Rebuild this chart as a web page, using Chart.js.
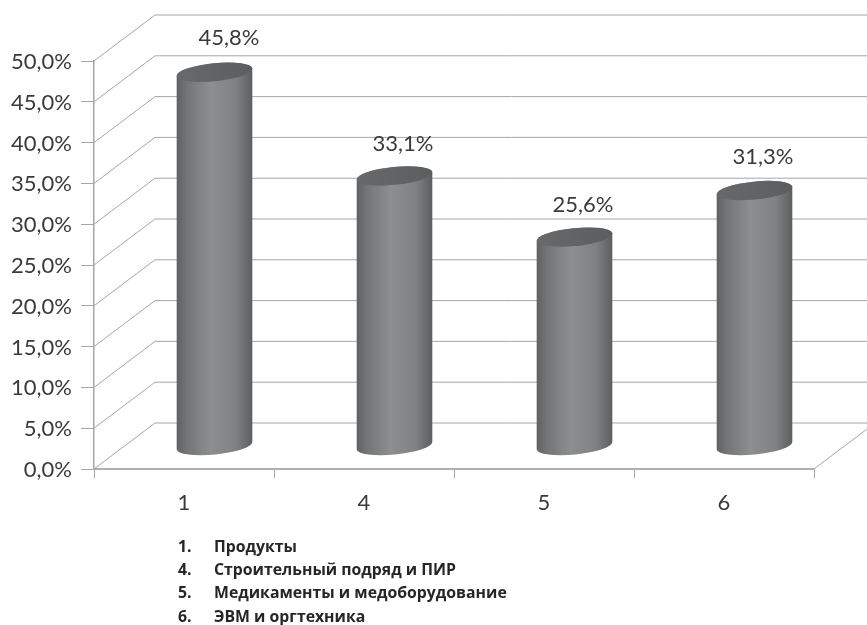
<!DOCTYPE html>
<html>
<head>
<meta charset="utf-8">
<title>Chart</title>
<script src="https://cdn.jsdelivr.net/npm/chart.js@4"></script>
<style>
  html, body { margin: 0; padding: 0; background: #fff; }
  canvas { display: block; }
</style>
</head>
<body>
<canvas id="shareChart" width="867" height="625"></canvas>
<script>
const categories = ['1', '4', '5', '6'];
const shares = [45.8, 33.1, 25.6, 31.3];
const legendNumbers = ['1.', '4.', '5.', '6.'];
const legendNames = ['Продукты', 'Строительный подряд и ПИР', 'Медикаменты и медоборудование', 'ЭВМ и оргтехника'];

// 3D look: how far the back wall sits from the front axes
const DEPTH_X = 61;
const DEPTH_Y = -46;
const BAR_SHIFT_X = 30.5;
const BAR_SHIFT_Y = -23;
const CAP_RY = 9;
const CAP_TILT = -0.1;
const FONT = 'Lato, "Open Sans", sans-serif';

function formatPercent(value) {
  return value.toFixed(1).replace('.', ',') + '%';
}

// Replaces the flat bar drawing with a tilted cylinder
function drawCylinder(ctx) {
  const { x, y, base, width } = this.getProps(['x', 'y', 'base', 'width']);
  const cx = x + BAR_SHIFT_X;
  const top = y + BAR_SHIFT_Y;
  const bottom = base + BAR_SHIFT_Y;
  const rx = width / 2;

  const side = ctx.createLinearGradient(cx - rx, 0, cx + rx, 0);
  side.addColorStop(0, '#606163');
  side.addColorStop(0.14, '#747577');
  side.addColorStop(0.45, '#8d8e90');
  side.addColorStop(0.78, '#808183');
  side.addColorStop(1, '#5c5d5f');

  ctx.save();
  ctx.beginPath();
  ctx.ellipse(cx, bottom, rx, CAP_RY, CAP_TILT, 0, Math.PI);
  ctx.ellipse(cx, top, rx, CAP_RY, CAP_TILT, Math.PI, Math.PI * 2);
  ctx.closePath();
  ctx.fillStyle = side;
  ctx.fill();

  const cap = ctx.createLinearGradient(cx - rx, 0, cx + rx, 0);
  cap.addColorStop(0, '#68696b');
  cap.addColorStop(1, '#5c5d5f');
  ctx.beginPath();
  ctx.ellipse(cx, top, rx, CAP_RY, CAP_TILT, 0, Math.PI * 2);
  ctx.fillStyle = cap;
  ctx.fill();
  ctx.restore();
}

const wallPlugin = {
  id: 'wall',
  beforeDatasetsDraw(chart) {
    const { ctx, scales, chartArea } = chart;
    ctx.save();
    ctx.strokeStyle = '#a6a6a6';
    ctx.lineWidth = 1;
    scales.y.ticks.forEach(tick => {
      const y = scales.y.getPixelForValue(tick.value);
      ctx.beginPath();
      ctx.moveTo(chartArea.left, y);
      ctx.lineTo(chartArea.left + DEPTH_X, y + DEPTH_Y);
      ctx.lineTo(chartArea.right + DEPTH_X, y + DEPTH_Y);
      ctx.stroke();
    });
    // floor edge on the right
    ctx.beginPath();
    ctx.moveTo(chartArea.right, chartArea.bottom);
    ctx.lineTo(chartArea.right + DEPTH_X, chartArea.bottom + DEPTH_Y);
    ctx.stroke();
    ctx.restore();

    chart.getDatasetMeta(0).data.forEach(el => { el.draw = drawCylinder; });
  }
};

const labelsPlugin = {
  id: 'valueLabels',
  afterDatasetsDraw(chart) {
    const { ctx } = chart;
    ctx.save();
    ctx.font = '22px ' + FONT;
    ctx.fillStyle = '#3a3a3a';
    ctx.textAlign = 'center';
    ctx.textBaseline = 'middle';
    chart.getDatasetMeta(0).data.forEach((el, i) => {
      // first label sits a bit further right in the original
      const shift = i === 0 ? 45 : 39;
      const lift = (i === 0 || i === 3) ? 34 : 32;
      ctx.fillText(formatPercent(shares[i]), el.x + shift, el.y + BAR_SHIFT_Y - lift);
    });

    ctx.font = 'bold 15.8px "Open Sans", sans-serif';
    ctx.fillStyle = '#262626';
    ctx.textAlign = 'left';
    legendNames.forEach((name, i) => {
      const y = 547.5 + i * 23.2;
      ctx.fillText(legendNumbers[i], 178, y);
      ctx.fillText(name, 214, y);
    });
    ctx.restore();
  }
};

new Chart(document.getElementById('shareChart').getContext('2d'), {
  type: 'bar',
  data: {
    labels: categories,
    datasets: [{
      data: shares,
      barThickness: 76,
      backgroundColor: '#7d7e80',
      clip: false
    }]
  },
  options: {
    responsive: false,
    animation: false,
    layout: { padding: { top: 61, right: 53, left: 0, bottom: 0 } },
    plugins: {
      legend: { display: false },
      tooltip: { enabled: false }
    },
    scales: {
      x: {
        afterFit(scale) { scale.height = 156; },
        grid: {
          drawOnChartArea: false,
          color: '#a6a6a6',
          tickLength: 9
        },
        border: { color: '#b0b0b0', width: 2 },
        ticks: {
          padding: 12,
          color: '#3a3a3a',
          font: { family: FONT, size: 22 }
        }
      },
      y: {
        min: 0,
        max: 50,
        afterFit(scale) { scale.width = 94; },
        grid: {
          drawOnChartArea: false,
          color: '#a6a6a6',
          tickLength: 13
        },
        border: { color: '#a6a6a6', width: 1.5 },
        ticks: {
          stepSize: 5,
          padding: 9,
          labelOffset: 1,
          color: '#3a3a3a',
          font: { family: FONT, size: 22 },
          callback: value => formatPercent(value)
        }
      }
    }
  },
  plugins: [wallPlugin, labelsPlugin]
});
</script>
</body>
</html>
